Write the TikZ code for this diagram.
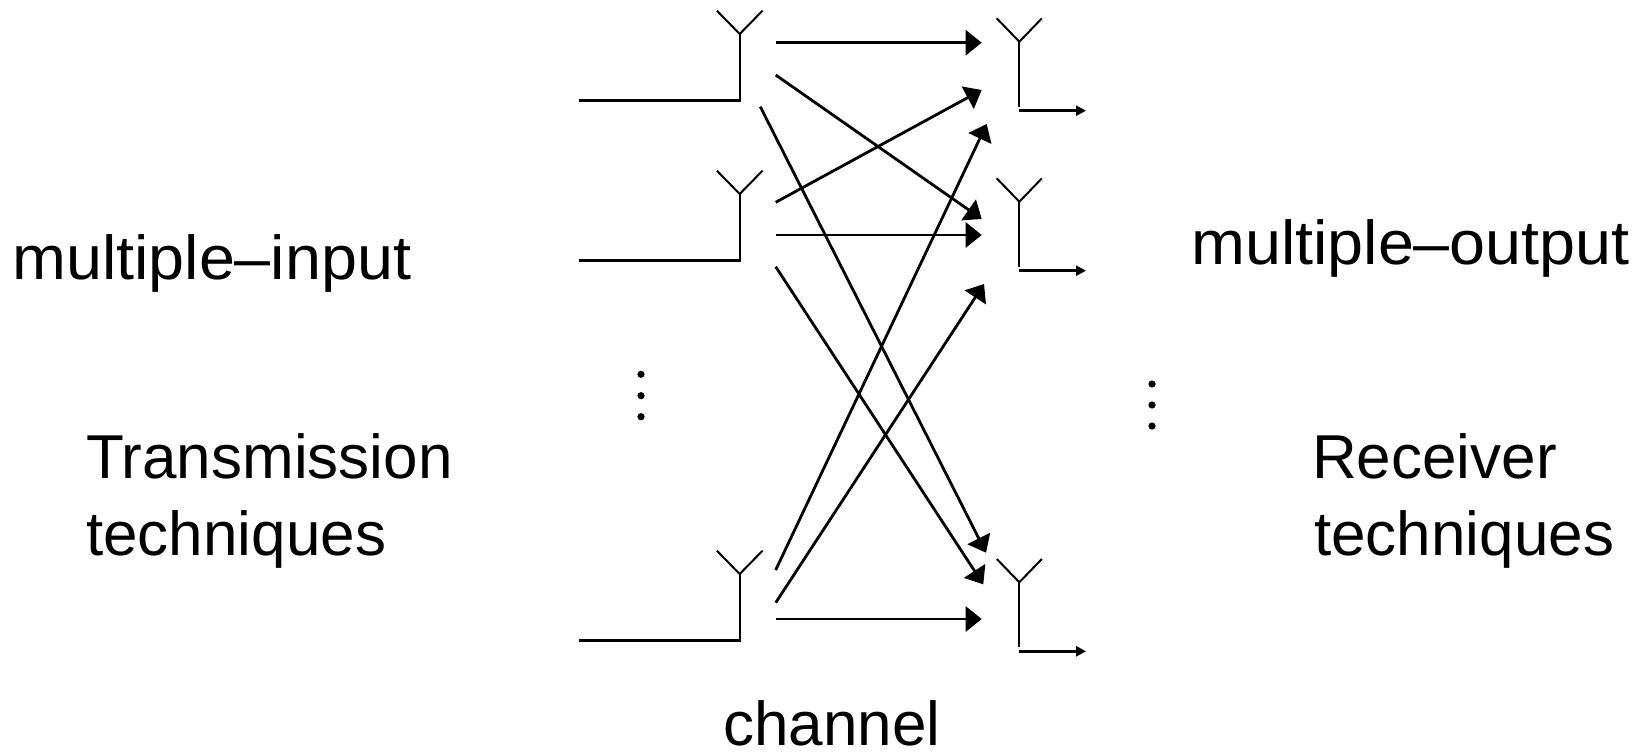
\documentclass[tikz,border=0pt]{standalone}
\usepackage{fontspec}
\setmainfont{Liberation Sans}
\usetikzlibrary{arrows.meta,calc}
\begin{document}
\begin{tikzpicture}[x=1pt,y=-1pt,
  lbl/.style={font=\fontsize{62}{74}\selectfont, inner sep=0pt, anchor=base west},
  ant/.style={line width=2pt},
  feed/.style={line width=2.8pt},
  chan/.style={line width=2.8pt, -{Triangle[length=16pt,width=25pt]}},
  outp/.style={line width=2.8pt, -{Triangle[length=10pt,width=10pt]}},
  dotm/.style={fill=black, draw=none}
]
\useasboundingbox (0,0) rectangle (1646,753);

% transmit antennas (junction points)
\foreach \n/\y in {1/34, 2/194, 3/574}{
  \coordinate (tj\n) at (739.7,\y);
  \coordinate (tb\n) at (739.7,\y+66.7);
  \coordinate (tf\n) at (579,\y+66.7);
  \draw[ant] ($(tj\n)+(-22.8,-23.3)$) -- (tj\n) -- ($(tj\n)+(22.8,-23.3)$);
  \draw[ant] (tj\n) -- (tb\n);
  \draw[feed] (tf\n) -- ([xshift=1pt]tb\n);
}
% receive antennas
\foreach \n/\y in {1/41.7, 2/201.7, 3/582.3}{
  \coordinate (rj\n) at (1019.3,\y);
  \coordinate (rb\n) at (1019.3,\y+65);
  \coordinate (ro\n) at (1019.3,\y+69);
  \coordinate (re\n) at (1086,\y+69);
  \draw[ant] ($(rj\n)+(-22.5,-23.3)$) -- (rj\n) -- ($(rj\n)+(22.5,-23.3)$);
  \draw[ant] (rj\n) -- (rb\n);
  \draw[outp] (ro\n) -- (re\n);
}

% channel paths
\coordinate (s11) at (775.7,42.7);  \coordinate (e11) at (981.7,42.7);
\coordinate (s12) at (775.7,75);    \coordinate (e12) at (981.7,219);
\coordinate (s13) at (760.3,106.7); \coordinate (e13) at (986,552.7);
\coordinate (s21) at (775.7,202.3); \coordinate (e21) at (981.7,90);
\coordinate (s22) at (775.7,235);   \coordinate (e22) at (981.7,235);
\coordinate (s23) at (775.7,266.7); \coordinate (e23) at (983.3,584.3);
\coordinate (s31) at (775.7,570);   \coordinate (e31) at (986.7,124);
\coordinate (s32) at (775.7,602.7); \coordinate (e32) at (984,284);
\coordinate (s33) at (775.7,619);   \coordinate (e33) at (981.7,619);
\foreach \p in {11,12,13,21,22,23,31,32,33}{
  \draw[chan] (s\p) -- (e\p);
}

% dots
\foreach \y in {374.3,395.7,416.7}{ \fill[dotm] (641,\y) circle (3.6pt); }
\foreach \y in {384,405,426}{ \fill[dotm] (1152,\y) circle (3.6pt); }

% labels
\node[lbl] (mi) at (12,279) {\scalebox{1.043}[1]{multiple–input}};
\node[lbl] (tr) at (86,478) {Transmission};
\node[lbl] (tt) at (86,555) {techniques};
\node[lbl] (mo) at (1191,264) {\scalebox{1.043}[1]{multiple–output}};
\node[lbl] (rc) at (1312,478) {Receiver};
\node[lbl] (rt) at (1314,555) {techniques};
\node[lbl] (ch) at (723,745) {channel};
\end{tikzpicture}
\end{document}
